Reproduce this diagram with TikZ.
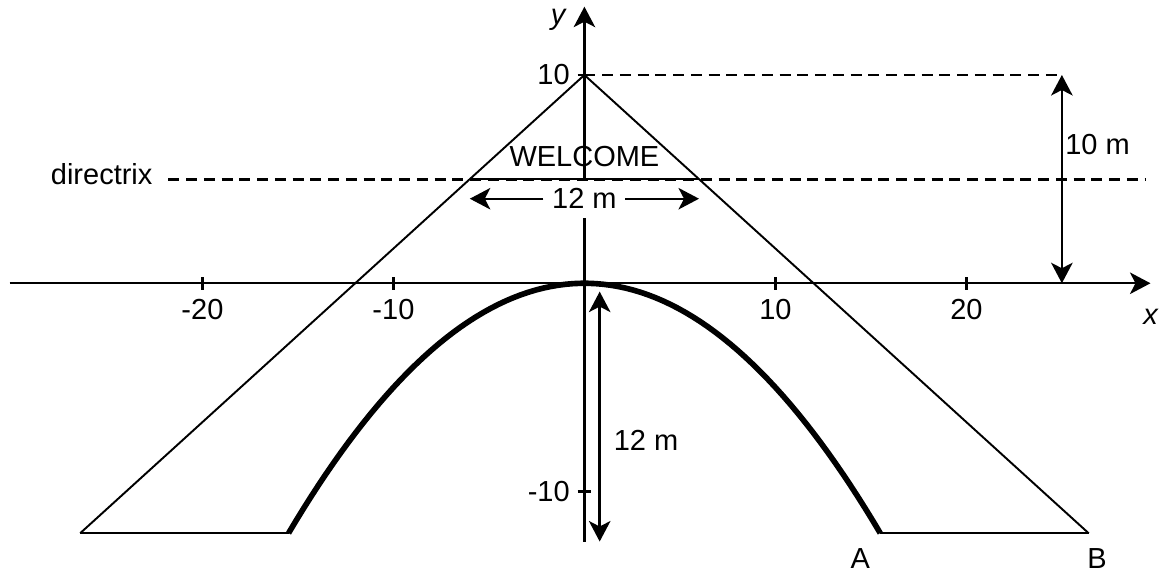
\documentclass[tikz,border=0pt]{standalone}
\usepackage{fontspec}
\setmainfont{Liberation Sans}
\usetikzlibrary{arrows.meta}

\begin{document}
\begin{tikzpicture}[x=0.382cm, y=0.4166cm, every node/.style={font=\fontsize{16.5}{19}\selectfont, inner sep=0pt}, >={Stealth[length=4.1mm, width=4.3mm, inset=1.1mm]},
	axis/.style={line width=1.3pt}, edge/.style={line width=1.1pt}, dashline/.style={line width=1.6pt, dash pattern=on 0.22cm off 0.135cm}, dim/.style={<->, line width=1.4pt}]
	\useasboundingbox (-30.6,-13.91) rectangle (30.19,13.6);
	\coordinate (apex) at (0,10);
	\coordinate (Bl) at (-26.4,-12);
	\coordinate (Br) at (26.4,-12);
	\coordinate (Al) at (-15.49,-12);
	\coordinate (Ar) at (15.49,-12);
	\coordinate (dl) at (-6,5);
	\coordinate (dr) at (6,5);
	% axes
	\draw[axis, ->] (-30.1,0) coordinate (xl) -- (29.64,0) coordinate (xr);
	\draw[axis, ->] (0,-12.4) coordinate (yb) -- (0,13.28) coordinate (yt);
	\foreach \x in {-20,-10,10,20} {
		\draw[axis] (\x,-0.3) -- (\x,0.3);
		\node (tx\x) at (\x,-1.28) {\x};
	}
	\foreach \y in {-10,10} {
		\draw[axis] (-0.35,\y) -- (0.35,\y);
		\node[anchor=east] (ty\y) at (-0.75,\y) {\y};
	}
	\node (ylab) at (-1.38,12.65) {\itshape y};
	\node (xlab) at (29.64,-1.6) {\itshape x};
	% arch
	\draw[edge] (Bl) -- (apex) -- (Br);
	\draw[edge] (Bl) -- (Al);
	\draw[edge] (Ar) -- (Br);
	\draw[line width=3.2pt, domain=-15.49:15.49, samples=80] plot (\x, {-\x*\x/20});
	% sign and directrix
	\node[fill=white, minimum height=0.754cm, inner xsep=0.17cm] (width) at (0,4.06) {12 m};
	\draw[dashline] (-21.78,5) coordinate (dxl) -- (29.42,5) coordinate (dxr);
	\draw[line width=1.5pt] (dl) -- (dr);
	\draw[->, line width=1.3pt] (width.west) -- (width.west -| dl);
	\draw[->, line width=1.3pt] (width.east) -- (width.east -| dr);
	\node[anchor=base] (sign) at (0,5.6) {WELCOME};
	\node[anchor=base east] (dirlab) at (-22.6,4.75) {directrix};
	% dimensions
	\draw[dashline] (apex) -- (25,10) coordinate (top);
	\draw[dim] (top) -- (top |- xl);
	\node[anchor=base west] (hlab) at (25.16,6.16) {10 m};
	\draw[dim] (0.8,-0.4) coordinate (dt) -- (0.8,-12.4) coordinate (db);
	\node[anchor=base west] (dlab) at (1.52,-8.04) {12 m};
	\node[anchor=base] (A) at (14.45,-13.7) {A};
	\node[anchor=base] (B) at (26.84,-13.7) {B};
\end{tikzpicture}
\end{document}
